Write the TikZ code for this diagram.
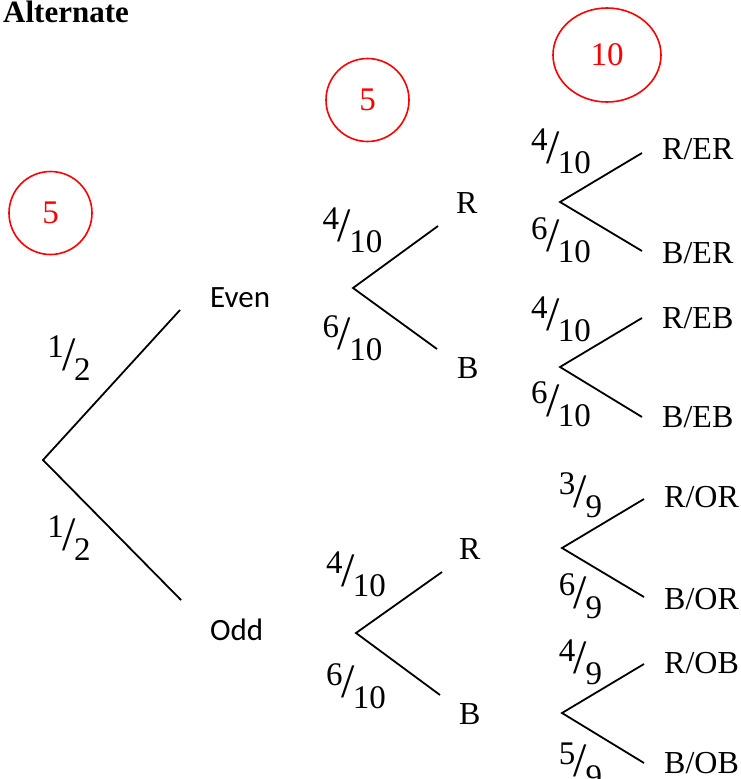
\documentclass[tikz,border=0pt]{standalone}
\usepackage{fontspec}
\setmainfont{Liberation Serif}
\newfontfamily\calib{Carlito}
\usetikzlibrary{shapes.geometric}
\newcommand{\fr}[2]{\raisebox{11.5pt}{#1}\kern-1.5pt\raisebox{-1pt}{\fontsize{48}{48}\selectfont/}\kern-1.5pt\raisebox{-11.5pt}{#2}}
\begin{document}
\begin{tikzpicture}[x=1pt,y=-1pt,
  br/.style={line width=1.8pt},
  lab/.style={anchor=base west, inner sep=0pt, font=\fontsize{32}{32}\selectfont},
  slab/.style={anchor=base west, inner sep=0pt, font=\calib\fontsize{31}{31}\selectfont},
  frac/.style={inner sep=0pt, font=\fontsize{33}{33}\selectfont},
  cnt/.style={draw=red, text=red, ellipse, line width=1.6pt, inner sep=0pt, font=\fontsize{33}{33}\selectfont}]
\useasboundingbox (0,0) rectangle (740,779);
\node[anchor=base west, inner sep=0pt, font=\bfseries\fontsize{31}{31}\selectfont] (title) at (3,23) {Alternate};
% count circles
\node[cnt, minimum width=83pt, minimum height=83pt] (c1) at (50.5,213) {5};
\node[cnt, minimum width=83pt, minimum height=83pt] (c2) at (367.5,100) {5};
\node[cnt, minimum width=108pt, minimum height=94pt] (c3) at (607,55) {10};
% coordinates
\coordinate (r0) at (43,460);
\coordinate (e) at (180,310);
\coordinate (o) at (181,600);
\coordinate (ea) at (353,288);
\coordinate (eR) at (438,226);
\coordinate (eB) at (437,349);
\coordinate (oa) at (356,633);
\coordinate (oR) at (442,572);
\coordinate (oB) at (440,695);
\coordinate (era) at (560,202);
\coordinate (erR) at (642,153);
\coordinate (erB) at (642,251);
\coordinate (eba) at (560,367);
\coordinate (ebR) at (642,318);
\coordinate (ebB) at (642,417);
\coordinate (ora) at (562,548);
\coordinate (orR) at (644,499);
\coordinate (orB) at (644,597);
\coordinate (oba) at (562,713);
\coordinate (obR) at (644,664);
\coordinate (obB) at (644,763);
% branches
\draw[br] (e) -- (r0) -- (o);
\draw[br] (eR) -- (ea) -- (eB);
\draw[br] (oR) -- (oa) -- (oB);
\draw[br] (erR) -- (era) -- (erB);
\draw[br] (ebR) -- (eba) -- (ebB);
\draw[br] (orR) -- (ora) -- (orB);
\draw[br] (obR) -- (oba) -- (obB);
% outcome labels
\node[slab] (even) at (210,307) {Even};
\node[slab] (odd) at (210,640) {Odd};
\node[lab] (lR1) at (456,213) {R};
\node[lab] (lB1) at (457,378) {B};
\node[lab] (lR2) at (459,559) {R};
\node[lab] (lB2) at (459,724) {B};
\node[lab] (rer) at (662,159) {R/ER};
\node[lab] (ber) at (662,263) {B/ER};
\node[lab] (reb) at (662,328) {R/EB};
\node[lab] (beb) at (662,427) {B/EB};
\node[lab] (ror) at (664,507) {R/OR};
\node[lab] (bor) at (664,609) {B/OR};
\node[lab] (rob) at (664,673) {R/OB};
\node[lab] (bob) at (664,773) {B/OB};
% probabilities
\node[frac] (p1) at (69,358.5) {\fr{1}{2}};
\node[frac] (p2) at (69,538.5) {\fr{1}{2}};
\node[frac] (p3) at (352.5,230) {\fr{4}{10}};
\node[frac] (p4) at (352.5,338) {\fr{6}{10}};
\node[frac] (p5) at (356,574.5) {\fr{4}{10}};
\node[frac] (p6) at (356,686) {\fr{6}{10}};
\node[frac] (p7) at (561,151.5) {\fr{4}{10}};
\node[frac] (p8) at (561,240) {\fr{6}{10}};
\node[frac] (p9) at (561,319) {\fr{4}{10}};
\node[frac] (p10) at (561,404.5) {\fr{6}{10}};
\node[frac] (p11) at (580.5,495.5) {\fr{3}{9}};
\node[frac] (p12) at (580.5,596.5) {\fr{6}{9}};
\node[frac] (p13) at (580.5,662) {\fr{4}{9}};
\node[frac] (p14) at (580.5,765) {\fr{5}{9}};
\end{tikzpicture}
\end{document}
